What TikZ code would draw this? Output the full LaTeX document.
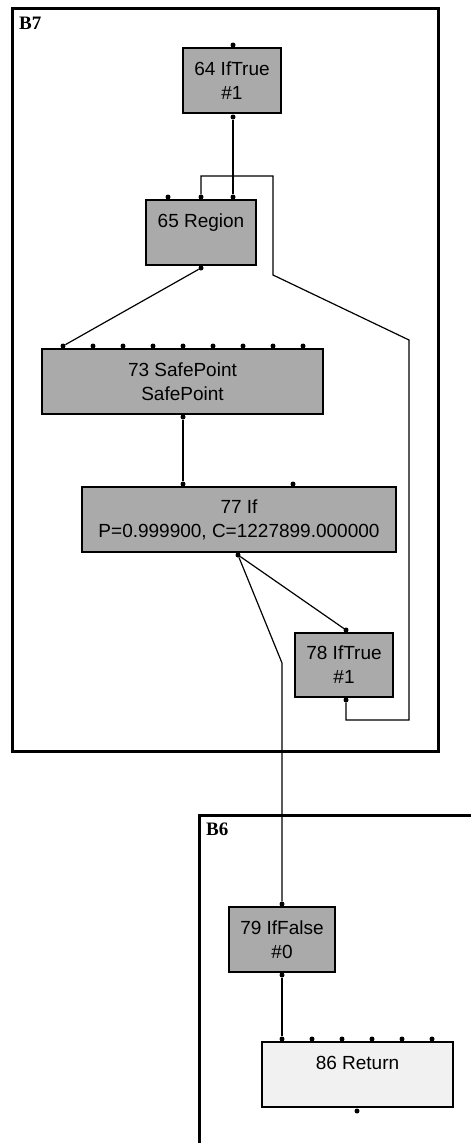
\documentclass[tikz,border=0pt]{standalone}
\usepackage{fontspec}
\setmainfont{Liberation Sans}
\newfontfamily\blockfont{Liberation Serif}
\definecolor{nodefill}{RGB}{170,170,170}
\definecolor{retfill}{RGB}{241,241,241}

\begin{document}
\begin{tikzpicture}[x=1pt, y=-1pt,
	every node/.style={font=\fontsize{19}{24}\selectfont},
	box/.style={shape=rectangle, draw, fill=nodefill, line width=1.3pt, align=center, inner sep=0pt},
	heavy/.style={box, line width=2.8pt},
	port/.style={shape=circle, fill, inner sep=0pt, minimum size=5pt},
	wire/.style={line width=1.2pt},
	frame/.style={line width=3pt},
	blocklabel/.style={font=\blockfont\bfseries\fontsize{19}{24}\selectfont, anchor=base west, inner sep=0pt}]
	\useasboundingbox (0,0) rectangle (471,1143);
	\clip (0,0) rectangle (471,1143);
	% Blocks:
	\draw[frame] (12,8) rectangle (438,751);
	\node[blocklabel] (b7) at (19,29) {B7};
	\draw[frame] (199,1150) |- (480,815);
	\node[blocklabel] (b6) at (206,835) {B6};
	% Nodes:
	\node[box, minimum width=98pt, minimum height=65pt] (n64) at (232,80.5) {64 IfTrue\\\#1};
	\node[heavy, minimum width=110pt, minimum height=65pt] (n65) at (201,232.5) {65 Region\\\mbox{}};
	\node[box, minimum width=281pt, minimum height=65pt] (n73) at (182.5,381.5) {73 SafePoint\\SafePoint};
	\node[heavy, minimum width=314pt, minimum height=65pt] (n77) at (239,519.5) {77 If\\P=0.999900, C=1227899.000000};
	\node[heavy, minimum width=98pt, minimum height=64pt] (n78) at (344,665) {78 IfTrue\\\#1};
	\node[heavy, minimum width=106pt, minimum height=65pt] (n79) at (282,939.5) {79 IfFalse\\\#0};
	\node[box, fill=retfill, minimum width=191pt, minimum height=65pt] (n86) at (357.5,1074.5) {86 Return\\\mbox{}};
	% Ports:
	\node[port] (p64n) at (233,45) {};
	\node[port] (p64s) at (233,117) {};
	\node[port] (p65a) at (168,197) {};
	\node[port] (p65b) at (201,197) {};
	\node[port] (p65c) at (233,197) {};
	\node[port] (p65s) at (201,268) {};
	\foreach \i in {0,...,8}
		\node[port] (p73n\i) at (63+30*\i,346) {};
	\node[port] (p73s) at (183,417) {};
	\node[port] (p77a) at (183,484) {};
	\node[port] (p77b) at (293,484) {};
	\node[port] (p77s) at (238,555) {};
	\node[port] (p78n) at (346,630) {};
	\node[port] (p78s) at (346,700) {};
	\node[port] (p79n) at (282,904) {};
	\node[port] (p79s) at (282,975) {};
	\foreach \i in {0,...,5}
		\node[port] (p86n\i) at (282+30*\i,1039) {};
	\node[port] (p86s) at (357,1111) {};
	% Wires:
	\draw[wire] (p64s) -- (p65c);
	\draw[wire] (p65b) -- (201,176) -- (273,176) -- (273,275) -- (409,340) -- (409,720) -- (346,720) -- (p78s);
	\draw[wire] (p65s) -- (p73n0);
	\draw[wire] (p73s) -- (p77a);
	\draw[wire] (p77s) -- (p78n);
	\draw[wire] (p77s) -- (282,663) -- (p79n);
	\draw[wire] (p79s) -- (p86n0);
\end{tikzpicture}
\end{document}
